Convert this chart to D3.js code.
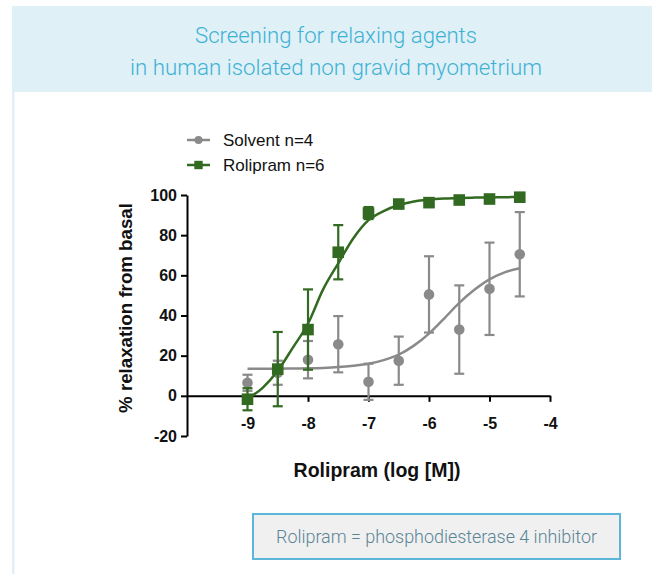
<!DOCTYPE html>
<html lang="en">
<head>
    <meta charset="UTF-8">
    <script src="https://cdnjs.cloudflare.com/ajax/libs/d3/7.8.5/d3.min.js"></script>
    <style>
        body { margin: 0; background: #fff; }
        svg { display: block; }
        .tick text { font-family: "Liberation Sans", Arial, sans-serif; font-weight: bold; font-size: 16px; fill: #111; }
        .axis path, .axis line { stroke: #000; stroke-width: 2px; }
    </style>
</head>
<body>
<div id="chart"></div>
<script>
    // log dose of rolipram / solvent
    var doses = [-9, -8.5, -8, -7.5, -7, -6.5, -6, -5.5, -5, -4.5];
    var solventMean = [6.5, 11.5, 18, 25.7, 7, 17.5, 50.5, 33, 53.3, 70.5];
    var solventSem = [4, 6, 9.3, 14, 9, 12, 19, 22, 23, 21];
    var rolipramMean = [-1.7, 13.3, 33, 71.5, 91, 95.5, 96.2, 97.5, 98, 98.9];
    var rolipramSem = [5.5, 18.5, 20, 13.5, 3, 1.5, 1.5, 1, 1, 1];

    // fitted curves
    var fitDoses = [-9, -8.75, -8.5, -8.25, -8, -7.75, -7.5, -7.25, -7, -6.75, -6.5, -6.25, -6, -5.75, -5.5, -5.25, -5, -4.75, -4.5];
    var rolipramFit = [-1.5, 4, 12.5, 24, 36, 53, 66, 78.5, 87.5, 92, 95, 96.8, 97.7, 98.2, 98.5, 98.7, 98.8, 98.9, 99];
    var solventFit = [13.5, 13.5, 13.5, 13.6, 13.7, 13.9, 14.3, 15, 16, 17.8, 20.5, 25, 31, 38.5, 46.3, 52.8, 58, 61.5, 63.5];

    var xTicks = [-9, -8, -7, -6, -5, -4];
    var yTicks = [-20, 0, 20, 40, 60, 80, 100];
    var legendLabels = ["Solvent n=4", "Rolipram n=6"];
    var titleLines = ["Screening for relaxing agents", "in human isolated non gravid myometrium"];
    var noteText = "Rolipram = phosphodiesterase 4 inhibitor";

    var gray = "#8a8a8a", green = "#326a22";
    var W = 652, H = 574;

    var svg = d3.select("#chart").append("svg").attr("width", W).attr("height", H);

    // header band + left strip
    svg.append("rect").attr("x", 12).attr("y", 6).attr("width", W - 12).attr("height", 86).attr("fill", "#dff0f7");
    svg.append("rect").attr("x", 12).attr("y", 92).attr("width", 2.5).attr("height", H - 92).attr("fill", "#e2f0f6");

    svg.selectAll(".title").data(titleLines).enter().append("text")
        .attr("x", 336).attr("y", function (d, i) { return 43 + i * 32; })
        .attr("text-anchor", "middle")
        .attr("textLength", function (d, i) { return i === 0 ? 282 : 412; })
        .attr("lengthAdjust", "spacingAndGlyphs")
        .style("font-family", "Roboto, sans-serif").style("font-weight", 300).style("font-size", "22px")
        .style("fill", "#3fb2d4")
        .text(function (d) { return d; });

    // note box at bottom
    svg.append("rect").attr("x", 253).attr("y", 514).attr("width", 367).attr("height", 45)
        .attr("fill", "#f0f0f0").attr("stroke", "#5bb6d9").attr("stroke-width", 2);
    svg.append("text").attr("x", 436.5).attr("y", 543).attr("text-anchor", "middle")
        .attr("textLength", 321).attr("lengthAdjust", "spacingAndGlyphs")
        .style("font-family", "Roboto, sans-serif").style("font-weight", 300).style("font-size", "19px")
        .style("fill", "#5a8496")
        .text(noteText);

    var x = d3.scaleLinear().domain([-10, -4]).range([187, 550]);
    var y = d3.scaleLinear().domain([-20, 100]).range([436, 195]);
    var fmt = function (d) { return String(d); };

    var g = svg.append("g");

    g.append("g").attr("class", "axis")
        .attr("transform", "translate(" + x(-10) + ",0)")
        .call(d3.axisLeft(y).tickValues(yTicks).tickFormat(fmt).tickSize(6).tickSizeOuter(0).tickPadding(4));

    g.append("g").attr("class", "axis")
        .attr("transform", "translate(0," + y(0) + ")")
        .call(d3.axisBottom(x).tickValues(xTicks).tickFormat(fmt).tickSize(6).tickSizeOuter(0).tickPadding(16));

    // axis titles
    g.append("text").attr("transform", "translate(132,308) rotate(-90)")
        .attr("text-anchor", "middle")
        .style("font-family", "Liberation Sans, Arial, sans-serif").style("font-weight", "bold").style("font-size", "18.7px")
        .style("fill", "#111")
        .text("% relaxation from basal");
    g.append("text").attr("x", 377).attr("y", 477).attr("text-anchor", "middle")
        .style("font-family", "Liberation Sans, Arial, sans-serif").style("font-weight", "bold").style("font-size", "19.5px")
        .style("fill", "#111")
        .text("Rolipram (log [M])");

    var line = d3.line().x(function (d) { return x(d[0]); }).y(function (d) { return y(d[1]); })
        .curve(d3.curveMonotoneX);

    function drawSeries(mean, sem, fit, color, shape) {
        var s = g.append("g");
        s.append("path").datum(d3.zip(fitDoses, fit))
            .attr("d", line).attr("fill", "none").attr("stroke", color).attr("stroke-width", 2.5);
        var pts = d3.zip(doses, mean, sem);
        var eb = s.selectAll(".eb").data(pts).enter().append("g").attr("stroke", color).attr("stroke-width", 2.2);
        eb.append("line").attr("x1", function (d) { return x(d[0]); }).attr("x2", function (d) { return x(d[0]); })
            .attr("y1", function (d) { return y(d[1] + d[2]); }).attr("y2", function (d) { return y(d[1] - d[2]); });
        [1, -1].forEach(function (sgn) {
            eb.append("line").attr("x1", function (d) { return x(d[0]) - 5; }).attr("x2", function (d) { return x(d[0]) + 5; })
                .attr("y1", function (d) { return y(d[1] + sgn * d[2]); }).attr("y2", function (d) { return y(d[1] + sgn * d[2]); });
        });
        if (shape === "circle") {
            s.selectAll(".pt").data(pts).enter().append("circle")
                .attr("cx", function (d) { return x(d[0]); }).attr("cy", function (d) { return y(d[1]); })
                .attr("r", 5.3).attr("fill", color);
        } else {
            s.selectAll(".pt").data(pts).enter().append("rect")
                .attr("x", function (d) { return x(d[0]) - 5.8; }).attr("y", function (d) { return y(d[1]) - 5.8; })
                .attr("width", 11.6).attr("height", 11.6).attr("fill", color);
        }
    }

    drawSeries(solventMean, solventSem, solventFit, gray, "circle");
    drawSeries(rolipramMean, rolipramSem, rolipramFit, green, "square");

    // legend
    var leg = svg.append("g");
    legendLabels.forEach(function (lbl, i) {
        var ly = 140 + i * 25;
        var col = i === 0 ? gray : green;
        leg.append("line").attr("x1", 187).attr("x2", 210).attr("y1", ly).attr("y2", ly)
            .attr("stroke", col).attr("stroke-width", 2.5);
        if (i === 0) {
            leg.append("circle").attr("cx", 198.5).attr("cy", ly).attr("r", 4).attr("fill", col);
        } else {
            leg.append("rect").attr("x", 194.3).attr("y", ly - 4.2).attr("width", 8.4).attr("height", 8.4).attr("fill", col);
        }
        leg.append("text").attr("x", 223).attr("y", ly + 6)
            .style("font-family", "Liberation Sans, Arial, sans-serif").style("font-size", "17px").style("fill", "#111")
            .text(lbl);
    });
</script>
</body>
</html>
